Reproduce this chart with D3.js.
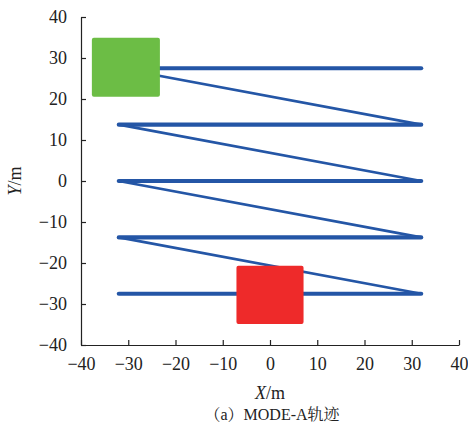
<!DOCTYPE html>
<html>
<head>
<meta charset="utf-8">
<script src="https://cdn.jsdelivr.net/npm/d3@7"></script>
<style>
  body { margin: 0; background: #fff; }
  .axis text { font-family: "Liberation Serif", "Times New Roman", serif; font-size: 18px; fill: #222; }
  .axis path, .axis line { stroke: #222; stroke-width: 1.2; }
  .cap { font-family: "Liberation Serif", "Noto Serif CJK SC", "Noto Sans CJK SC", serif; font-size: 16px; fill: #222; }
</style>
</head>
<body>
<svg width="468" height="427"></svg>
<script>
// trajectory waypoints (m)
var pathX = [32, -32, 32, -32, 32, -32, 32, -32, 32, -32];
var pathY = [27.5, 27.5, 13.75, 13.75, 0, 0, -13.75, -13.75, -27.5, -27.5];
// squares: start (green) and end (red)
var boxX = [-30.5, 0];
var boxY = [27.75, -27.75];
var boxSide = [14.4, 14.2];
var boxColor = ["#6cbd45", "#ee2a2a"];
var ticks = [-40, -30, -20, -10, 0, 10, 20, 30, 40];

var svg = d3.select("svg");

var x = d3.scaleLinear().domain([-40, 40]).range([81, 459]);
var y = d3.scaleLinear().domain([-40, 40]).range([345, 17]);

var pts = pathX.map((d, i) => ({x: d, y: pathY[i]}));
var segs = pts.slice(1).map((p, i) => ({a: pts[i], b: p}));

svg.append("g").selectAll("line")
    .data(segs)
    .enter().append("line")
    .attr("x1", d => x(d.a.x))
    .attr("y1", d => y(d.a.y))
    .attr("x2", d => x(d.b.x))
    .attr("y2", d => y(d.b.y))
    .attr("stroke", "#2456a6")
    .attr("stroke-width", d => d.a.y == d.b.y ? 4.2 : 2.6)
    .attr("stroke-linecap", "round");

svg.append("g").selectAll("rect")
    .data(boxX)
    .enter().append("rect")
    .attr("x", (d, i) => x(d - boxSide[i] / 2))
    .attr("y", (d, i) => y(boxY[i] + boxSide[i] / 2))
    .attr("width", (d, i) => x(d + boxSide[i] / 2) - x(d - boxSide[i] / 2))
    .attr("height", (d, i) => y(boxY[i] - boxSide[i] / 2) - y(boxY[i] + boxSide[i] / 2))
    .attr("rx", 2)
    .attr("fill", (d, i) => boxColor[i]);

svg.append("g")
    .attr("class", "axis")
    .attr("transform", "translate(0,345)")
    .call(d3.axisBottom(x).tickValues(ticks).tickSizeInner(-5).tickSizeOuter(0).tickPadding(12));

svg.append("g")
    .attr("class", "axis")
    .attr("transform", "translate(81,0)")
    .call(d3.axisLeft(y).tickValues(ticks).tickSizeInner(-5).tickSizeOuter(0).tickPadding(14));

var lab = svg.append("text")
    .attr("x", 270).attr("y", 399)
    .attr("text-anchor", "middle")
    .style("font-family", "'Liberation Serif', serif").style("font-size", "18px").attr("fill", "#222");
lab.append("tspan").style("font-style", "italic").text("X");
lab.append("tspan").text("/m");

var ylab = svg.append("text")
    .attr("transform", "translate(21,181) rotate(-90)")
    .attr("text-anchor", "middle")
    .style("font-family", "'Liberation Serif', serif").style("font-size", "18px").attr("fill", "#222");
ylab.append("tspan").style("font-style", "italic").text("Y");
ylab.append("tspan").text("/m");

var cap = svg.append("text")
    .attr("class", "cap")
    .attr("x", 272).attr("y", 420)
    .attr("text-anchor", "middle");
cap.append("tspan").text("（a）");
cap.append("tspan").text("MODE-A");
cap.append("tspan").text("轨迹");
</script>
</body>
</html>
